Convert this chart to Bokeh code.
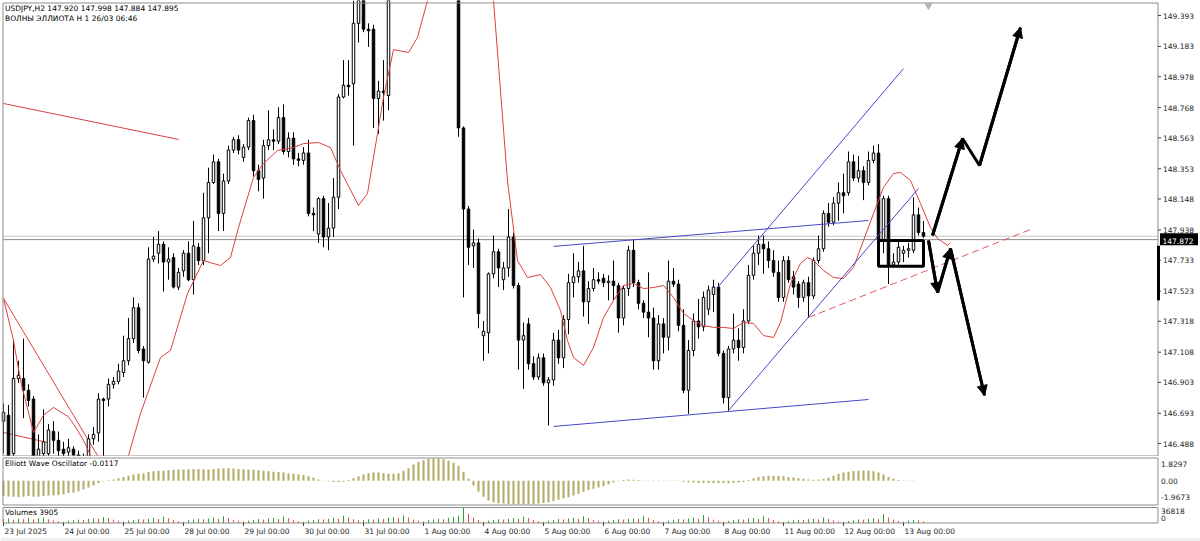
from bokeh.plotting import figure
from bokeh.models import Range1d, Arrow, NormalHead, ColumnDataSource
from bokeh.layouts import column
from bokeh.embed import file_html
from bokeh.resources import INLINE
from bokeh.core.properties import value

FONT = "DejaVu Sans"
FS = "7.5px"
NAN = float("nan")

# ---------------- data ----------------
bar_open = [
    146.64, 146.68, 146.42, 146.93, 146.93, 146.85, 146.79, 146.40, 146.42, 146.42,
    146.57, 146.51, 146.45, 146.43, 146.45, 146.41, 146.38, 146.40, 146.52, 146.56,
    146.79, 146.79, 146.89, 146.91, 146.97, 147.05, 147.20, 147.41, 147.13, 147.04,
    147.74, 147.78, 147.84, 147.72, 147.75, 147.55, 147.66, 147.78, 147.60, 147.82,
    147.73, 148.02, 148.26, 148.40, 148.05, 148.27, 148.48, 148.55, 148.43, 148.50,
    148.68, 148.34, 148.29, 148.51, 148.55, 148.54, 148.70, 148.47, 148.56, 148.42,
    148.41, 148.46, 148.05, 147.91, 148.15, 147.89, 147.95, 148.16, 148.84, 148.92,
    148.93, 149.34, 149.55, 149.30, 149.30, 148.83, 148.88, 148.85, 149.60, 149.90,
    150.05, 150.25, 150.50, 150.70, 150.65, 150.60, 150.55, 150.75, 150.65, 150.58,
    150.50, 150.40, 148.63, 148.08, 147.83, 147.85, 147.22, 147.24, 147.64, 147.79,
    147.60, 147.68, 147.89, 147.56, 147.19, 147.30, 147.03, 146.94, 147.07, 146.90,
    146.92, 147.19, 147.07, 147.33, 147.58, 147.62, 147.66, 147.45, 147.54, 147.60,
    147.61, 147.58, 147.59, 147.56, 147.34, 147.54, 147.80, 147.58, 147.44, 147.38,
    147.34, 147.05, 147.30, 147.21, 147.59, 147.57, 147.29, 146.85, 147.12, 147.32,
    147.28, 147.40, 147.50, 147.55, 147.10, 146.80, 147.13, 147.19, 147.14, 147.32,
    147.63, 147.78, 147.84, 147.81, 147.73, 147.65, 147.48, 147.73, 147.62, 147.57,
    147.48, 147.58, 147.49, 147.73, 147.81, 148.05, 147.99, 148.12, 148.19, 148.19,
    148.40, 148.29, 148.34, 148.26, 148.41, 148.46, 147.87, 148.15, 147.70, 147.72,
    147.78, 147.80, 147.80, 148.04, 147.920,
]
bar_high = [
    146.76, 146.75, 147.19, 147.05, 147.20, 146.89, 146.81, 146.55, 146.72, 146.62,
    146.64, 146.57, 146.50, 146.52, 146.47, 146.44, 146.42, 146.55, 146.60, 146.83,
    146.80, 146.93, 146.94, 147.03, 147.22, 147.34, 147.48, 147.44, 147.15, 147.82,
    147.89, 147.93, 147.86, 147.82, 147.78, 147.68, 147.80, 147.86, 148.00, 147.85,
    148.19, 148.36, 148.45, 148.42, 148.32, 148.51, 148.57, 148.58, 148.52, 148.70,
    148.72, 148.38, 148.55, 148.75, 148.62, 148.77, 148.79, 148.60, 148.60, 148.46,
    148.50, 148.55, 148.09, 148.16, 148.17, 148.12, 148.29, 148.86, 149.09, 149.09,
    149.50, 149.60, 149.62, 149.34, 149.33, 148.95, 149.09, 149.70, 149.95, 150.10,
    150.30, 150.55, 150.80, 150.90, 150.75, 150.72, 150.80, 150.85, 150.75, 150.70,
    150.60, 150.50, 148.64, 148.10, 147.94, 147.88, 147.32, 147.65, 147.90, 147.81,
    147.72, 148.08, 147.92, 147.58, 147.31, 147.34, 147.08, 147.10, 147.10, 146.94,
    147.24, 147.26, 147.36, 147.64, 147.78, 147.72, 147.83, 147.59, 147.68, 147.65,
    147.64, 147.63, 147.73, 147.58, 147.56, 147.83, 147.87, 147.60, 147.46, 147.65,
    147.41, 147.36, 147.34, 147.73, 147.68, 147.60, 147.40, 147.19, 147.37, 147.47,
    147.52, 147.56, 147.60, 147.58, 147.12, 147.15, 147.37, 147.27, 147.40, 147.70,
    147.83, 147.90, 147.90, 147.86, 147.80, 147.73, 147.76, 147.76, 147.66, 147.59,
    147.60, 147.62, 147.75, 147.90, 148.07, 148.12, 148.16, 148.26, 148.32, 148.47,
    148.45, 148.44, 148.37, 148.47, 148.51, 148.52, 148.17, 148.17, 147.78, 147.86,
    147.83, 147.85, 148.16, 148.09, 147.998,
]
bar_low = [
    146.42, 146.38, 146.38, 146.90, 146.66, 146.74, 146.35, 146.30, 146.35, 146.38,
    146.42, 146.40, 146.38, 146.39, 146.38, 146.30, 146.28, 146.35, 146.48, 146.50,
    146.40, 146.74, 146.86, 146.89, 146.94, 147.02, 147.17, 147.10, 146.80, 147.03,
    147.72, 147.71, 147.52, 147.60, 147.54, 147.53, 147.62, 147.59, 147.50, 147.70,
    147.70, 147.78, 148.25, 147.93, 147.93, 148.25, 148.46, 148.45, 148.40, 148.48,
    148.30, 148.20, 148.15, 148.48, 148.48, 148.52, 148.45, 148.43, 148.38, 148.37,
    148.38, 148.03, 147.93, 147.85, 147.82, 147.80, 147.89, 148.08, 148.83, 148.85,
    148.51, 149.21, 149.28, 149.18, 148.63, 148.59, 148.68, 148.75, 149.55, 149.80,
    149.98, 150.20, 150.45, 150.55, 150.50, 150.48, 150.50, 150.60, 150.50, 150.45,
    150.30, 148.57, 147.48, 147.70, 147.68, 147.27, 147.05, 147.10, 147.61, 147.55,
    147.53, 147.62, 147.54, 146.99, 146.86, 146.99, 146.92, 146.92, 146.88, 146.61,
    146.88, 147.03, 147.00, 147.23, 147.48, 147.58, 147.35, 147.30, 147.52, 147.57,
    147.55, 147.46, 147.46, 147.24, 147.29, 147.49, 147.55, 147.40, 147.34, 147.21,
    146.99, 146.99, 147.10, 147.12, 147.55, 147.25, 146.83, 146.69, 147.08, 147.20,
    147.25, 147.36, 147.38, 147.08, 146.76, 146.71, 147.10, 147.05, 147.10, 147.30,
    147.60, 147.70, 147.64, 147.68, 147.62, 147.45, 147.45, 147.58, 147.50, 147.41,
    147.45, 147.34, 147.47, 147.71, 147.79, 147.96, 147.97, 148.00, 148.05, 148.17,
    148.27, 148.26, 148.14, 148.24, 148.39, 147.85, 147.78, 147.57, 147.69, 147.70,
    147.72, 147.75, 147.78, 147.90, 147.884,
]
bar_close = [
    146.70, 146.40, 146.93, 146.95, 146.85, 146.78, 146.40, 146.45, 146.50, 146.58,
    146.51, 146.44, 146.42, 146.46, 146.41, 146.38, 146.36, 146.52, 146.55, 146.79,
    146.78, 146.89, 146.91, 146.98, 147.05, 147.20, 147.41, 147.12, 147.05, 147.74,
    147.76, 147.84, 147.72, 147.74, 147.55, 147.65, 147.78, 147.60, 147.83, 147.73,
    148.02, 148.26, 148.40, 148.05, 148.27, 148.48, 148.55, 148.48, 148.50, 148.68,
    148.34, 148.28, 148.51, 148.55, 148.54, 148.70, 148.47, 148.56, 148.42, 148.41,
    148.46, 148.05, 148.04, 148.15, 147.89, 147.95, 148.16, 148.84, 148.92, 148.91,
    149.34, 149.50, 149.30, 149.29, 148.83, 148.88, 148.87, 149.60, 149.90, 150.05,
    150.25, 150.50, 150.70, 150.65, 150.60, 150.55, 150.75, 150.65, 150.58, 150.50,
    150.40, 148.63, 148.08, 147.82, 147.85, 147.37, 147.25, 147.64, 147.79, 147.68,
    147.68, 147.89, 147.56, 147.19, 147.22, 147.03, 146.94, 147.07, 146.90, 146.92,
    147.19, 147.07, 147.33, 147.58, 147.62, 147.66, 147.45, 147.54, 147.60, 147.59,
    147.58, 147.59, 147.56, 147.34, 147.54, 147.80, 147.58, 147.44, 147.38, 147.34,
    147.05, 147.30, 147.21, 147.59, 147.57, 147.29, 146.85, 147.12, 147.32, 147.28,
    147.48, 147.53, 147.55, 147.10, 146.80, 147.13, 147.19, 147.14, 147.32, 147.63,
    147.78, 147.84, 147.81, 147.73, 147.65, 147.48, 147.73, 147.60, 147.55, 147.48,
    147.58, 147.49, 147.73, 147.81, 148.05, 147.99, 148.12, 148.19, 148.17, 148.40,
    148.29, 148.34, 148.26, 148.41, 148.46, 147.87, 148.15, 147.70, 147.72, 147.82,
    147.80, 147.81, 148.04, 147.92, 147.895,
]

# moving average (red curve), read as (bar index, price) points
ma_x = [0, 2, 3.4, 6, 8, 10, 12, 13, 14.4, 16, 17.4, 21.4, 25, 27.4, 31.4, 33.4, 36.8, 40, 43.4, 45.4,
        47, 50, 52, 54.8, 58, 60, 63, 65.4, 67.4, 71, 72.8, 74.8, 76, 78, 81, 82.8, 84.8, 91.4, 98, 100.8,
        102.8, 104.8, 107.4, 109.4, 111.4, 112.8, 114, 116, 118, 120, 122, 124, 126, 128, 130, 132, 134,
        136, 138, 140, 142, 144, 146, 148, 150, 152, 154, 155.4, 157.4, 159.4, 160.8, 162, 164, 166, 168,
        170, 172, 174, 176, 178, 179.4, 181.4, 183.4, 185.4, 186.8, 188.8, 189.4]
ma_y = [147.473, 147.187, 146.916, 146.563, 146.68, 146.733, 146.69, 146.67, 146.60, 146.51,
        146.407, 146.24, 146.407, 146.692, 147.072, 147.120, 147.506, 147.730, 147.696, 147.751,
        147.954, 148.294, 148.389, 148.477, 148.497, 148.524, 148.531, 148.497, 148.341, 148.104,
        148.185, 148.592, 148.837, 149.162, 149.142, 149.244, 149.495, 150.30, 149.495, 148.27,
        147.73, 147.615, 147.635, 147.547, 147.391, 147.187, 147.072, 147.018, 147.140, 147.343,
        147.459, 147.561, 147.574, 147.540, 147.547, 147.561, 147.479, 147.371, 147.323, 147.289,
        147.276, 147.276, 147.269, 147.310, 147.303, 147.221, 147.208, 147.310, 147.574, 147.710,
        147.751, 147.730, 147.663, 147.615, 147.608, 147.683, 147.866, 148.049, 148.226, 148.321,
        148.328, 148.273, 148.117, 147.954, 147.880, 147.832, 147.853]

osc_values = [
    -1.25, -1.3, -1.3, -1.35, -1.3, -1.25, -1.3, -1.3, -1.25, -1.2, -1.2, -1.15, -1.1, -1.0, -0.95, -0.85, -0.7, -0.55,
    -0.4, -0.2, -0.05, 0.03,
    0.1, 0.2, 0.3, 0.4, 0.5, 0.55, 0.6, 0.7, 0.75, 0.78, 0.8, 0.85, 0.88, 0.9, 0.9, 0.92,
    0.95, 0.95, 0.92, 0.9, 0.95, 0.98, 1.0, 1.0, 0.98, 0.95, 0.92, 0.9, 0.88, 0.85, 0.8,
    0.75, 0.72, 0.7, 0.65, 0.6, 0.55, 0.5, 0.45, 0.35, 0.25, 0.1,
    0.02, -0.05, -0.1, -0.12, -0.08, 0.05, 0.2,
    0.35, 0.5, 0.6, 0.65, 0.65, 0.6, 0.55, 0.55, 0.6,
    0.8, 1.0, 1.3, 1.5, 1.65, 1.75, 1.78, 1.78, 1.72, 1.6, 1.45, 1.2, 0.7, 0.15,
    -0.4, -0.9, -1.3, -1.6, -1.75, -1.82, -1.85, -1.88, -1.9, -1.9, -1.92, -1.9, -1.88, -1.85, -1.8, -1.75,
    -1.65, -1.55, -1.45, -1.35, -1.2, -1.05, -0.9, -0.75, -0.65, -0.55,
    -0.45, -0.3, -0.15, -0.05, 0.05, 0.1,
    0.08, 0.05, 0.02, -0.02, -0.05, -0.05, -0.02, 0.02, 0.02, -0.02, -0.08, -0.12, -0.15, -0.18, -0.2,
    -0.2, -0.2, -0.18, -0.2, -0.22, -0.2, -0.15, -0.1, 0.05,
    0.2, 0.3, 0.35, 0.4, 0.4, 0.38, 0.35, 0.3, 0.25,
    0.2, 0.15, 0.1, 0.08, 0.1, 0.15, 0.25, 0.4,
    0.55, 0.65, 0.72, 0.78, 0.8, 0.82, 0.8, 0.75, 0.65, 0.5, 0.3, 0.15,
    0.05, -0.02, -0.03, -0.02, -0.01, -0.0117,
]

volumes = [
    9000, 11000, 8000, 10500, 9000, 12000, 8500, 11000, 13000, 9000, 6000, 4000,
    3000, 5000, 6500, 8000, 7000, 9500, 11000, 10000, 14000, 12000, 8000, 5000,
    3500, 6000, 7000, 9000, 8500, 10000, 12500, 9500, 15000, 11000, 7000, 4500,
    3000, 6500, 8000, 10000, 9000, 11000, 13500, 10000, 16000, 12000, 7500, 5000,
    3500, 5500, 7500, 9500, 8000, 10500, 12000, 9000, 15500, 11500, 6500, 4000,
    3000, 6000, 7000, 9000, 8500, 10000, 12000, 10500, 17000, 13000, 9000, 6000,
    7000, 9000, 8000, 11000, 9500, 12500, 14000, 11000, 18000, 13000, 8000, 5500,
    4000, 6500, 8000, 10000, 9000, 12000, 14500, 17000, 36818, 22000, 13000, 7000,
    3000, 5500, 7500, 9000, 8000, 10000, 11500, 9500, 15000, 12000, 7000, 4500,
    3000, 5000, 7000, 9500, 8500, 10500, 12000, 10000, 16000, 11500, 7500, 5000,
    3500, 5500, 7000, 9000, 8000, 10000, 11000, 9500, 17000, 12500, 7000, 4500,
    3000, 5500, 7500, 9500, 8500, 11000, 13000, 10000, 19000, 14000, 8000, 5000,
    3000, 5000, 7000, 9000, 8000, 10500, 12000, 9500, 16500, 12000, 7000, 4000,
    2500, 4500, 6000, 7500, 7000, 9000, 10000, 8500, 13000, 10000, 6500, 4000,
    3000, 5000, 6500, 8500, 7500, 10000, 11500, 9000, 21000, 13000, 8000, 5000,
    3500, 6000, 7000, 5500, 3905,
]

price_ticks = [149.393, 149.183, 148.978, 148.768, 148.563, 148.353, 148.148, 147.938,
               147.733, 147.523, 147.318, 147.108, 146.903, 146.693, 146.488]
osc_scale_labels = ["1.8297", "0.00", "-1.9673"]
osc_max, osc_min = 1.8297, -1.9673
vol_max = 36818
vol_scale_labels = ["36818", "0"]
day_starts = [0, 12, 24, 36, 48, 60, 72, 84, 96, 108, 120, 132, 144, 156, 168, 180]
day_labels = ["23 Jul 2025", "24 Jul 00:00", "25 Jul 00:00", "28 Jul 00:00", "29 Jul 00:00",
              "30 Jul 00:00", "31 Jul 00:00", "1 Aug 00:00", "4 Aug 00:00", "5 Aug 00:00",
              "6 Aug 00:00", "7 Aug 00:00", "8 Aug 00:00", "11 Aug 00:00", "12 Aug 00:00",
              "13 Aug 00:00"]

# drawn objects (bar index, price)
red_line_top = ([0, 35], [148.796, 148.552])
red_line_steep = ([0, 18.8], [147.473, 146.407])
red_line_low = ([0, 8.8], [146.563, 146.495])
red_dash = ([161, 205.4], [147.344, 147.941])
blue_upper = ([110, 173], [147.826, 148.002])
blue_lower = ([110, 173], [146.604, 146.787])
blue_rise_low = ([145, 183], [146.712, 148.219])
blue_rise_high = ([142.8, 180], [147.547, 149.033])
arrow_up = ([185.8, 191.8, 195.2, 203.4], [147.90, 148.558, 148.375, 149.312])
arrow_down = ([185, 186.8, 189.4, 196.2], [147.866, 147.513, 147.812, 146.814])
box = dict(left=175, right=184, bottom=147.692, top=147.866)
bid_price = 147.895
last_price = 147.872
marker_range = (147.83, 147.46)

header1 = "USDJPY,H2  147.920 147.998 147.884 147.895"
header2 = "ВОЛНЫ ЭЛЛИОТА H 1 26/03 06:46"
osc_title = "Elliott Wave Oscillator -0.0117"
vol_title = "Volumes 3905"

# ---------------- geometry (pixels of the 1200-px canvas) ----------------
n = len(bar_close)
idx = list(range(n))
W = 1200
PXB = 5.0                       # pixels per bar
X0 = -0.6                       # bar index at canvas x = 0
XR = Range1d(X0, X0 + W / PXB)
XL = X0 + 2.5 / PXB             # left border of the panels
XA = X0 + 1157.5 / PXB          # price-scale line
BORDER = "#8c8c8c"
TXT = "#1e1e1e"


def bx(px):
    return px / PXB


def panel(h, y0, y1):
    p = figure(frame_width=W, frame_height=h, x_range=XR, y_range=Range1d(y0, y1),
               output_backend="svg", toolbar_location=None, x_axis_location=None,
               y_axis_location=None, min_border=0, outline_line_color=None)
    p.grid.visible = False
    p.background_fill_color = "white"
    p.border_fill_color = "white"
    return p


def texts(p, xs, ys, ts, color=TXT, align="left"):
    p.text(x=xs, y=ys, text=ts, text_font=value(FONT), text_font_size=value(FS),
           text_color=color, text_align=align, text_baseline="middle")


def frame_lines(p, top, bottom):
    p.line([XL, XA], [top, top], line_color=BORDER, line_width=1)
    p.line([XL, XA], [bottom, bottom], line_color=BORDER, line_width=1)
    p.line([XL, XL], [bottom, top], line_color=BORDER, line_width=1)
    p.line([XA, XA], [bottom, top], line_color=BORDER, line_width=1)


# ---- main panel: canvas 0..456 px
MH = 456
PP = 0.006787                   # price per pixel
YLO, YHI = 149.495 - MH * PP, 149.495
main = panel(MH, YLO, YHI)
m_top, m_bot = YHI - 2.5 * PP, YHI - 455.5 * PP

main.segment(x0=[XL, XL], y0=[bid_price, last_price], x1=[XA, XA], y1=[bid_price, last_price],
             line_color=["#c8c8c8", "#8a8a8a"], line_width=1)

for xs, ys in (red_line_top, red_line_steep, red_line_low):
    main.line(xs, ys, line_color="#dc4040", line_width=1)

# candles, cut to the visible price window (no glyph may spill outside the panel)
cx, chi, clo, ctop, cbot, cfill = [], [], [], [], [], []
for k in idx:
    o, h, l, c = bar_open[k], bar_high[k], bar_low[k], bar_close[k]
    if l >= YHI or h <= YLO:
        continue
    bt, bb = max(o, c), min(o, c)
    cx.append(k)
    chi.append(min(h, YHI))
    clo.append(max(l, YLO))
    if bb < YHI and bt > YLO:
        ctop.append(min(bt, YHI))
        cbot.append(max(bb, YLO))
    else:
        ctop.append(NAN)
        cbot.append(NAN)
    cfill.append("white" if c >= o else "black")
src = ColumnDataSource(dict(x=cx, high=chi, low=clo, top=ctop, bottom=cbot, fill=cfill))
main.segment(x0="x", y0="low", x1="x", y1="high", source=src, line_color="black", line_width=1)
main.vbar(x="x", width=0.5, top="top", bottom="bottom", fill_color="fill",
          line_color="black", line_width=1, source=src)

ma_vis = [v if YLO - 1e-9 <= v <= YHI + 1e-9 else NAN for v in ma_y]
main.line(ma_x, ma_vis, line_color="#dc4040", line_width=1)

for xs, ys in (blue_upper, blue_lower, blue_rise_low, blue_rise_high):
    main.line(xs, ys, line_color="#4646c8", line_width=1)
main.line(red_dash[0], red_dash[1], line_color="#e05a5a", line_width=1, line_dash="7 4")

main.quad(left=[box["left"]], right=[box["right"]], bottom=[box["bottom"]], top=[box["top"]],
          fill_color=None, line_color="black", line_width=3)

main.line(arrow_up[0], arrow_up[1], line_color="black", line_width=3)
main.line(arrow_down[0], arrow_down[1], line_color="black", line_width=3)
for (xs, ys), seg_heads in ((arrow_up, [0, 2]), (arrow_down, [0, 1, 2])):
    for k in seg_heads:
        main.add_layout(Arrow(end=NormalHead(size=10, fill_color="black", line_color="black"),
                              x_start=xs[k], y_start=ys[k], x_end=xs[k + 1], y_end=ys[k + 1],
                              line_color="black", line_width=3))

# frame borders, price scale ticks and labels
main.quad(left=[XA], right=[XR.end], bottom=[YLO], top=[YHI], fill_color="white", line_color=None)
frame_lines(main, m_top, m_bot)
main.scatter(x=[185], y=[m_top - 2.5 * PP], marker="inverted_triangle", size=7, color="#b4b4b4")
main.segment(x0=[XA] * len(price_ticks), y0=price_ticks, x1=[XA + bx(3)] * len(price_ticks),
             y1=price_ticks, line_color="#404040", line_width=1)
texts(main, [XA + bx(5)] * len(price_ticks), price_ticks, [f"{t:.3f}" for t in price_ticks])
main.quad(left=[XA + bx(2)], right=[XA + bx(40)], bottom=[last_price - 5.5 * PP],
          top=[last_price + 6.5 * PP], fill_color="black", line_color=None)
texts(main, [XA + bx(4.5)], [last_price - 1 * PP], [f"{last_price:.3f}"], color="white")
main.segment(x0=[XA + bx(0.5)], y0=[marker_range[0]], x1=[XA + bx(0.5)], y1=[marker_range[1]],
             line_color="black", line_width=3)
texts(main, [XL + bx(2)], [YHI - 8 * PP], [header1], color="black")
texts(main, [XL + bx(2)], [YHI - 18 * PP], [header2], color="black")

# ---- oscillator panel: canvas 0..50 px, borders at 1.5 / 48.5
OH = 50
OP = (osc_max - osc_min) / 47.0
osc = panel(OH, osc_min - 1.5 * OP, osc_max + 1.5 * OP)
osc.vbar(x=idx, top=osc_values, bottom=0, width=0.42, fill_color="#b3ad6a", line_color=None)
frame_lines(osc, osc_max, osc_min)
texts(osc, [XA + bx(3)] * 3, [osc_max - 6 * OP, 0.0, osc_min + 8 * OP], osc_scale_labels)
texts(osc, [XL + bx(2)], [osc_max - 5 * OP], [osc_title], color="black")

# ---- volume panel: canvas 0..35 px, borders at 1 / 16.5, dates below
VH = 35
VP = vol_max / 15.5
vol = panel(VH, -(VH - 16.5) * VP, vol_max + 1 * VP)
vol.quad(left=[XR.start], right=[XR.end], bottom=[vol.y_range.start], top=[-(31.5 - 16.5) * VP],
         fill_color="#f0f0f0", line_color=None)
vcol = ["#2f9e2f" if (k > 0 and volumes[k] > volumes[k - 1]) else "#e05050" for k in range(n)]
vol.segment(x0=idx, y0=[0] * n, x1=idx, y1=volumes, line_color=vcol, line_width=1)
frame_lines(vol, vol_max, 0)
texts(vol, [XA + bx(3)] * 2, [vol_max - 3 * VP, vol_max - 10 * VP], vol_scale_labels)
texts(vol, [XL + bx(2)], [vol_max - 5 * VP], [vol_title], color="black")
vol.segment(x0=day_starts, y0=[0] * len(day_starts), x1=day_starts,
            y1=[-3 * VP] * len(day_starts), line_color="#404040", line_width=1)
texts(vol, [d + bx(1) for d in day_starts], [-8.5 * VP] * len(day_starts), day_labels)

layout = column(main, osc, vol, spacing=0)
open("out.html", "w").write(file_html(layout, INLINE))
